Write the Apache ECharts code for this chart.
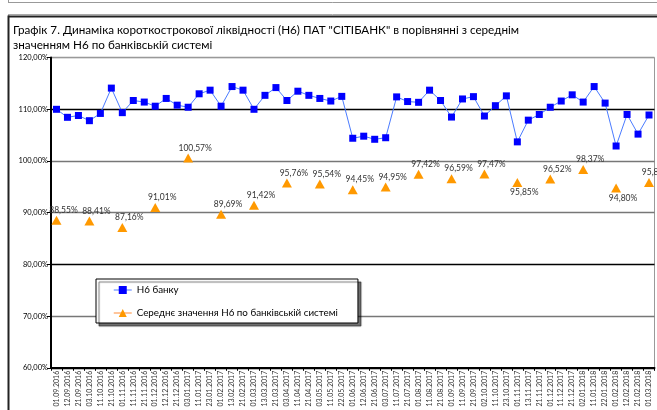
<!DOCTYPE html>
<html>
<head>
<meta charset="utf-8">
<script src="https://cdn.jsdelivr.net/npm/echarts@6/dist/echarts.min.js"></script>
<style>
  html, body { margin: 0; padding: 0; background: #fff; }
  #chart { width: 657px; height: 410px; }
</style>
</head>
<body>
<div id="chart"></div>
<script>
// дати спостережень
var dates = ['01.09.2016','12.09.2016','21.09.2016','03.10.2016','11.10.2016','21.10.2016',
    '01.11.2016','11.11.2016','21.11.2016','01.12.2016','12.12.2016','21.12.2016',
    '03.01.2017','11.01.2017','23.01.2017','01.02.2017','13.02.2017','21.02.2017',
    '01.03.2017','13.03.2017','21.03.2017','03.04.2017','11.04.2017','21.04.2017',
    '03.05.2017','11.05.2017','22.05.2017','01.06.2017','12.06.2017','21.06.2017',
    '03.07.2017','11.07.2017','21.07.2017','01.08.2017','11.08.2017','21.08.2017',
    '01.09.2017','11.09.2017','21.09.2017','02.10.2017','11.10.2017','23.10.2017',
    '01.11.2017','13.11.2017','21.11.2017','01.12.2017','11.12.2017','21.12.2017',
    '02.01.2018','11.01.2018','22.01.2018','01.02.2018','12.02.2018','21.02.2018',
    '01.03.2018']

// Н6 банку, %
var bankH6 = [110.0,108.45,108.8,107.8,109.2,114.1,109.35,111.7,111.4,110.6,112.1,110.8,
    110.4,113.0,113.7,110.6,114.4,113.7,110.0,112.7,114.2,111.7,113.5,112.7,
    112.1,111.6,112.5,104.4,104.8,104.2,104.5,112.4,111.5,111.35,113.7,111.7,
    108.5,112.0,112.45,108.7,110.7,112.6,103.7,107.9,109.0,110.4,111.6,112.8,
    111.4,114.4,111.2,102.9,109.0,105.2,108.9]

// середнє значення Н6 по банківській системі (на першу дату місяця)
var systemDates = ['01.09.2016','03.10.2016','01.11.2016','01.12.2016','03.01.2017',
    '01.02.2017','01.03.2017','03.04.2017','03.05.2017','01.06.2017','03.07.2017',
    '01.08.2017','01.09.2017','02.10.2017','01.11.2017','01.12.2017','02.01.2018',
    '01.02.2018','01.03.2018']
var systemH6 = [88.55,88.41,87.16,91.01,100.57,89.69,91.42,95.76,95.54,94.45,94.95,
    97.42,96.59,97.47,95.85,96.52,98.37,94.80,95.83]

var yTicks = [60,70,80,90,100,110,120]

// підписи, які в оригіналі стоять під маркером
var labelsBelow = ['01.11.2017','01.02.2018']

var fmt = function (v) { return v.toFixed(2).replace('.', ',') + '%' }

var systemSeriesData = dates.map(function (d) {
    var i = systemDates.indexOf(d)
    if (i < 0) return null
    var item = { value: systemH6[i] }
    if (labelsBelow.indexOf(d) >= 0) item.label = { position: 'bottom' }
    return item
})

var chart = echarts.init(document.getElementById('chart'), null, { renderer: 'canvas' })

var option = {
    animation: false,
    backgroundColor: '#fff',
    textStyle: { fontFamily: 'Lato' },
    title: {
        text: 'Графік 7. Динаміка короткострокової ліквідності (Н6) ПАТ "СІТІБАНК" в порівнянні з середнім\nзначенням Н6 по банківській системі',
        left: 10,
        top: 21,
        padding: [2, 3],
        textStyle: { fontFamily: 'Lato', fontSize: 11.7, fontWeight: 'normal', color: '#000', lineHeight: 15 }
    },
    graphic: [
        // рамка блоку зверху
        { type: 'line', shape: { x1: 8.5, y1: 0, x2: 8.5, y2: 3 }, style: { stroke: '#999', lineWidth: 1 } },
        { type: 'line', shape: { x1: 8.5, y1: 2.5, x2: 657, y2: 2.5 }, style: { stroke: '#999', lineWidth: 1 } },
        // рамка графіка
        { type: 'line', shape: { x1: 8, y1: 14.5, x2: 657, y2: 14.5 }, style: { stroke: '#aaa', lineWidth: 1 } },
        { type: 'line', shape: { x1: 8, y1: 16.5, x2: 657, y2: 16.5 }, style: { stroke: '#222', lineWidth: 2 } },
        { type: 'line', shape: { x1: 8.5, y1: 15.5, x2: 8.5, y2: 410 }, style: { stroke: '#222', lineWidth: 2 } }
    ],
    legend: {
        orient: 'vertical',
        left: 96,
        top: 279,
        padding: [6, 20, 5, 17],
        itemWidth: 18,
        itemHeight: 10,
        itemGap: 13,
        backgroundColor: '#fff',
        borderColor: '#000',
        borderWidth: 1,
        borderRadius: 0,
        shadowColor: 'rgba(0,0,0,0.55)',
        shadowBlur: 1,
        shadowOffsetX: 3,
        shadowOffsetY: 3,
        textStyle: { fontFamily: 'Lato', fontSize: 9.8, color: '#000' },
        data: [
            { name: 'Н6 банку', lineStyle: { color: '#8aa6ff', width: 1.5 } },
            { name: 'Середнє значення Н6 по банківській системі', lineStyle: { color: '#ffb27a', width: 1.5, opacity: 1 } }
        ]
    },
    grid: {
        left: 51, right: 2.5, top: 57.6, bottom: 42.2,
        show: true, borderColor: '#999', borderWidth: 1, backgroundColor: 'transparent'
    },
    xAxis: {
        type: 'category',
        data: dates,
        boundaryGap: true,
        axisLine: { lineStyle: { color: '#000', width: 2 } },
        axisTick: { show: true, interval: 0, length: 3, lineStyle: { color: '#000', width: 1 } },
        axisLabel: { interval: 0, rotate: 90, fontSize: 7, color: '#333', margin: 3, fontFamily: 'Lato' },
        splitLine: { show: false }
    },
    yAxis: {
        type: 'value',
        min: yTicks[0],
        max: yTicks[yTicks.length - 1],
        interval: 10,
        axisLine: { show: true, lineStyle: { color: '#000', width: 2 } },
        axisTick: { show: true, length: 4, lineStyle: { color: '#000' } },
        axisLabel: { fontSize: 7.5, color: '#000', margin: 3, fontFamily: 'Lato', formatter: fmt },
        splitLine: { show: true, lineStyle: { color: ['#000', '#777', '#000', '#777', '#777', '#000', '#999'], width: 1.3 } }
    },
    series: [
        {
            name: 'Н6 банку',
            type: 'line',
            data: bankH6,
            symbol: 'rect',
            symbolSize: 7,
            showAllSymbol: true,
            lineStyle: { color: '#4a7bff', width: 1 },
            itemStyle: { color: '#0000ff' },
            z: 3
        },
        {
            name: 'Середнє значення Н6 по банківській системі',
            type: 'line',
            data: systemSeriesData,
            connectNulls: false,
            symbol: 'triangle',
            symbolSize: [10, 9],
            showAllSymbol: true,
            clip: false,
            lineStyle: { width: 0, opacity: 0 },
            itemStyle: { color: '#ff9900' },
            label: {
                show: true,
                position: 'top',
                distance: 1,
                offset: [7, 0],
                fontSize: 8.5,
                color: '#333',
                fontFamily: 'Lato',
                formatter: function (p) { return fmt(p.value) }
            },
            z: 10
        }
    ]
}

chart.setOption(option)
</script>
</body>
</html>
